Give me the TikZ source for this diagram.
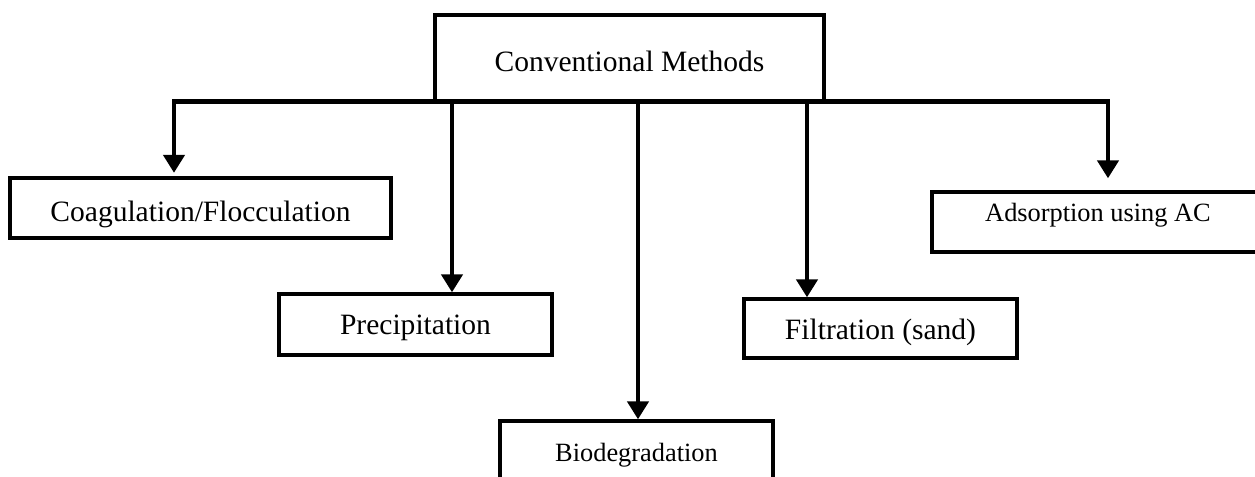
\documentclass[tikz,border=0pt]{standalone}
\usepackage{fontspec}
\setmainfont{Liberation Serif}
\usetikzlibrary{arrows.meta,positioning,calc}
\tikzset{
 cm flow/.style={-{Triangle[width=4.2mm,length=3.6mm]},line width=2.5pt,draw=black},
 cm bus/.style={line width=2.5pt,draw=black,line cap=rect},
 cm box/.style={draw=black,line width=1.9pt,fill=white,minimum height=12mm,
   inner sep=0pt,align=center,font=\fontsize{16.8}{20}\selectfont},
 cm small/.style={font=\fontsize{15}{18}\selectfont},
 cm drop/.style={text depth=0pt,text height=#1}
}
\begin{document}
\begin{tikzpicture}
\useasboundingbox (0,0) rectangle (25.1,-9.54);
\clip (0,0) rectangle (25.1,-9.54);
\node[cm box,cm drop=5.6mm,minimum width=77.8mm,minimum height=17.2mm] (top) at (12.59,-1.16) {Conventional Methods};
\node[cm box,cm drop=5.6mm,minimum width=76.2mm] (coag) at (4.01,-4.16) {Coagulation/Flocculation};
\node[cm box,cm drop=4.2mm,minimum width=54.6mm,minimum height=12.2mm] (precip) at (8.31,-6.49) {Precipitation};
\node[cm box,cm small,cm drop=3.4mm,minimum width=54.6mm,minimum height=13mm] (bio) at (12.73,-9.07) {Biodegradation};
\node[cm box,cm drop=4.6mm,minimum width=54.6mm,minimum height=11.8mm] (filter) at (17.61,-6.57) {Filtration (sand)};
\node[cm box,cm small,cm drop=0mm,minimum width=66.4mm] (adsorb) at (21.96,-4.44) {Adsorption using AC};
% bus under the top box
\coordinate (bus west) at (3.48,-2.03);
\coordinate (bus east) at (22.16,-2.03);
\draw[cm bus] (bus west)--(bus east);
\coordinate (b precip) at (9.04,-2.03);
\coordinate (b bio) at (12.76,-2.03);
\coordinate (b filter) at (16.14,-2.03);
\draw[cm flow,shorten >=0.7mm] (bus west)--(bus west |- coag.north);
\draw[cm flow] (b precip)--(b precip |- precip.north);
\draw[cm flow] (b bio)--(b bio |- bio.north);
\draw[cm flow] (b filter)--(b filter |- filter.north);
\draw[cm flow,shorten >=2.4mm] (bus east)--(bus east |- adsorb.north);
\end{tikzpicture}
\end{document}
